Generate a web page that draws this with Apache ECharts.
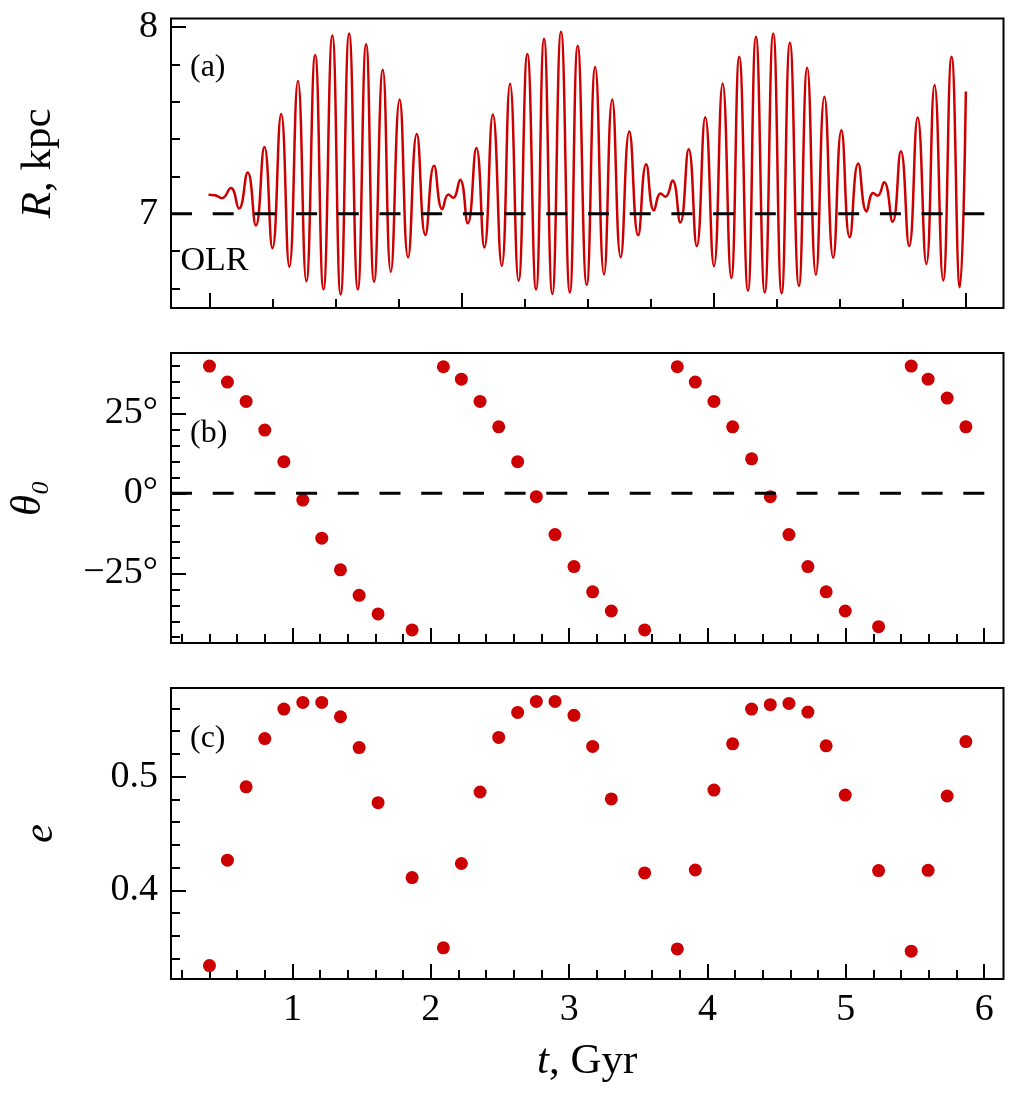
<!DOCTYPE html>
<html>
<head>
<meta charset="utf-8">
<script src="https://cdn.jsdelivr.net/npm/echarts@6/dist/echarts.min.js"></script>
<style>
  html, body { margin: 0; padding: 0; background: #fff; }
  #chart { width: 1016px; height: 1096px; }
</style>
</head>
<body>
<div id="chart"></div>
<script>
// panel (a): guiding-centre radius R(t), read at the extrema of the curve
const tLine = [0.3931, 0.4379, 0.4899, 0.5549, 0.6134, 0.6763, 0.7355, 0.7970, 0.8555, 0.9184,
  0.9776, 1.0397, 1.1004, 1.1640, 1.2240, 1.2883, 1.3483, 1.4097, 1.4725, 1.5325,
  1.5903, 1.6532, 1.7110, 1.7746, 1.8360, 1.8988, 1.9610, 2.0238, 2.0831, 2.1272,
  2.1611, 2.2117, 2.2673, 2.3295, 2.3873, 2.4487, 2.5130, 2.5730, 2.6344, 2.6980,
  2.7608, 2.8186, 2.8786, 2.9415, 3.0051, 3.0621, 3.1272, 3.1886, 3.2522, 3.3114,
  3.3728, 3.4350, 3.4993, 3.5571, 3.6135, 3.6618, 3.6965, 3.7471, 3.8035, 3.8642,
  3.9227, 3.9841, 4.0470, 4.1098, 4.1720, 4.2298, 4.2926, 4.3504, 4.4140, 4.4754,
  4.5361, 4.5961, 4.6611, 4.7211, 4.7840, 4.8454, 4.9090, 4.9682, 5.0282, 5.0896,
  5.1503, 5.1980, 5.2298, 5.2767, 5.3382, 5.3981, 5.4581, 5.5195, 5.5824, 5.6416,
  5.7038, 5.7645, 5.8244, 5.8678];
const rLine = [7.101, 7.099, 7.083, 7.137, 7.028, 7.221, 6.937, 7.357, 6.815, 7.534,
  6.715, 7.710, 6.638, 7.850, 6.595, 7.955, 6.567, 7.965, 6.593, 7.908,
  6.635, 7.771, 6.688, 7.611, 6.766, 7.427, 6.886, 7.257, 7.024, 7.103,
  7.085, 7.182, 6.948, 7.352, 6.819, 7.531, 6.720, 7.696, 6.640, 7.855,
  6.593, 7.937, 6.569, 7.974, 6.578, 7.900, 6.618, 7.786, 6.674, 7.611,
  6.767, 7.440, 6.884, 7.264, 7.017, 7.108, 7.090, 7.177, 6.952, 7.345,
  6.826, 7.517, 6.718, 7.697, 6.655, 7.841, 6.587, 7.948, 6.578, 7.965,
  6.573, 7.916, 6.613, 7.782, 6.673, 7.626, 6.764, 7.447, 6.873, 7.268,
  7.012, 7.111, 7.096, 7.168, 6.956, 7.334, 6.826, 7.515, 6.730, 7.689,
  6.642, 7.841, 6.605, 7.654];

// panels (b) and (c): sampled points
const tPts = [0.400, 0.530, 0.665, 0.800, 0.938, 1.075, 1.212, 1.347, 1.482, 1.619, 1.865,
  2.091, 2.221, 2.356, 2.491, 2.628, 2.763, 2.898, 3.035, 3.170, 3.305, 3.546,
  3.782, 3.912, 4.047, 4.182, 4.319, 4.454, 4.589, 4.726, 4.858, 4.996, 5.237,
  5.473, 5.595, 5.733, 5.868];
const theta0 = [39.8, 34.8, 28.75, 19.8, 9.9, -2.1, -14.0, -23.9, -31.9, -37.7, -42.7,
  39.6, 35.7, 28.75, 20.8, 9.9, -1.05, -12.9, -22.9, -30.8, -36.8, -42.7,
  39.6, 34.8, 28.75, 20.8, 10.8, -1.05, -12.9, -22.9, -30.8, -36.8, -41.7,
  39.8, 35.7, 29.8, 20.8];
const ecc = [0.3338, 0.4265, 0.4911, 0.5335, 0.5595, 0.5653, 0.5653, 0.5527, 0.5256, 0.4771, 0.4112,
  0.3494, 0.4236, 0.4865, 0.5345, 0.5565, 0.5662, 0.5662, 0.5540, 0.5266, 0.4804, 0.4153,
  0.3485, 0.4179, 0.4882, 0.5289, 0.5595, 0.5633, 0.5644, 0.5568, 0.5271, 0.4838, 0.4174,
  0.3465, 0.4176, 0.4830, 0.5309];

const R_OLR = 7;

// ticks
const tickAMajor = [0.4053, 2.2262, 4.0470, 5.8678];
const tickAMinor = [0.8606, 1.3158, 1.7710, 2.6815, 3.1367, 3.5919, 4.5022, 4.9574, 5.4126];
const tickTMajor = [1, 2, 3, 4, 5, 6];
const tickTMinor = [0.2, 0.4, 0.6, 0.8, 1.2, 1.4, 1.6, 1.8, 2.2, 2.4, 2.6, 2.8, 3.2, 3.4, 3.6, 3.8,
  4.2, 4.4, 4.6, 4.8, 5.2, 5.4, 5.6, 5.8];
const tickRMajor = [7, 8];
const tickRMinor = [6.6, 6.8, 7.2, 7.4, 7.6, 7.8];
const tickThMajor = [-25, 0, 25];
const tickThMinor = [-45, -40, -35, -30, -20, -15, -10, -5, 5, 10, 15, 20, 30, 35, 40];
const tickEMajor = [0.4, 0.5];
const tickEMinor = [0.34, 0.36, 0.38, 0.42, 0.44, 0.46, 0.48, 0.52, 0.54, 0.56];

const T_MIN = 0.122, T_MAX = 6.14;
const FONT = 'Liberation Serif';
const RED = '#cc0000';

const chart = echarts.init(document.getElementById('chart'));

function mkAxis(pos, grid, min, max, ticks, len, fmt, extra) {
  const ax = {
    type: 'value', gridIndex: grid, position: pos, min: min, max: max,
    axisLine: { show: false, onZero: false },
    splitLine: { show: false },
    axisTick: { show: true, inside: true, length: len, customValues: ticks,
      lineStyle: { color: '#000', width: 2 } },
    axisLabel: { show: false }
  };
  if (fmt) {
    ax.axisLabel = { show: true, customValues: ticks, formatter: fmt,
      margin: pos === 'left' ? 13 : 12,
      fontFamily: FONT, fontSize: 38, color: '#000' };
  }
  return Object.assign(ax, extra || {});
}

const nameStyle = {
  fontFamily: FONT, fontSize: 43, color: '#000',
  rich: { i: { fontFamily: FONT, fontSize: 43, fontStyle: 'italic', color: '#000' } }
};

const degFmt = v => (v < 0 ? '\u2212' + (-v) : String(v)) + '\u00b0';

const option = {
  animation: false,
  backgroundColor: '#fff',
  grid: [
    { left: 171, top: 18.5, width: 832.5, height: 289.5, show: true, borderColor: '#000', borderWidth: 2, outerBoundsMode: 'none' },
    { left: 171, top: 353, width: 832.5, height: 290, show: true, borderColor: '#000', borderWidth: 2, outerBoundsMode: 'none' },
    { left: 171, top: 688, width: 832.5, height: 291, show: true, borderColor: '#000', borderWidth: 2, outerBoundsMode: 'none' }
  ],
  xAxis: [
    mkAxis('bottom', 0, T_MIN, T_MAX, tickAMajor, 15, null),
    mkAxis('bottom', 0, T_MIN, T_MAX, tickAMinor, 9, null),
    mkAxis('bottom', 1, T_MIN, T_MAX, tickTMajor, 15, null),
    mkAxis('bottom', 1, T_MIN, T_MAX, tickTMinor, 9, null),
    mkAxis('bottom', 2, T_MIN, T_MAX, tickTMajor, 15, v => String(v), {
      name: '{i|t}, Gyr', nameLocation: 'middle', nameGap: 61, nameTextStyle: nameStyle, nameMoveOverlap: false
    }),
    mkAxis('bottom', 2, T_MIN, T_MAX, tickTMinor, 9, null)
  ],
  yAxis: [
    mkAxis('left', 0, 6.4945, 8.0455, tickRMajor, 15, v => String(v), {
      name: '{i|R}, kpc', nameLocation: 'middle', nameGap: 111, nameRotate: 90, nameTextStyle: nameStyle, nameMoveOverlap: false
    }),
    mkAxis('left', 0, 6.4945, 8.0455, tickRMinor, 9, null),
    mkAxis('left', 1, -46.8, 43.9, tickThMajor, 15, degFmt, {
      name: '{i|\u03b8\u2080}', nameLocation: 'middle', nameGap: 121, nameRotate: 90, nameTextStyle: nameStyle, nameMoveOverlap: false
    }),
    mkAxis('left', 1, -46.8, 43.9, tickThMinor, 9, null),
    mkAxis('left', 2, 0.322, 0.578, tickEMajor, 15, v => v.toFixed(1), {
      name: '{i|e}', nameLocation: 'middle', nameGap: 109, nameRotate: 90, nameTextStyle: nameStyle, nameMoveOverlap: false
    }),
    mkAxis('left', 2, 0.322, 0.578, tickEMinor, 9, null)
  ],
  series: [
    {
      type: 'line', xAxisIndex: 0, yAxisIndex: 0,
      data: tLine.map((t, i) => [t, rLine[i]]),
      smooth: 0.5, showSymbol: false, z: 2,
      lineStyle: { color: RED, width: 2.5 }
    },
    {
      type: 'line', xAxisIndex: 0, yAxisIndex: 0,
      data: [[T_MIN, R_OLR], [T_MAX, R_OLR]],
      showSymbol: false, z: 3,
      lineStyle: { color: '#000', width: 3, type: [21, 20.7] }
    },
    {
      type: 'scatter', xAxisIndex: 2, yAxisIndex: 2,
      data: tPts.map((t, i) => [t, theta0[i]]),
      symbolSize: 13, z: 2,
      itemStyle: { color: RED, opacity: 1 }
    },
    {
      type: 'line', xAxisIndex: 2, yAxisIndex: 2,
      data: [[T_MIN, 0], [T_MAX, 0]],
      showSymbol: false, z: 3,
      lineStyle: { color: '#000', width: 3, type: [21, 20.7] }
    },
    {
      type: 'scatter', xAxisIndex: 4, yAxisIndex: 4,
      data: tPts.map((t, i) => [t, ecc[i]]),
      symbolSize: 13, z: 2,
      itemStyle: { color: RED, opacity: 1 }
    }
  ],
  graphic: [
    { type: 'text', x: 190, y: 68, z: 10, style: { text: '(a)', font: '32px "Liberation Serif"', fill: '#000', verticalAlign: 'middle' } },
    { type: 'text', x: 190, y: 434, z: 10, style: { text: '(b)', font: '32px "Liberation Serif"', fill: '#000', verticalAlign: 'middle' } },
    { type: 'text', x: 190, y: 739, z: 10, style: { text: '(c)', font: '32px "Liberation Serif"', fill: '#000', verticalAlign: 'middle' } },
    { type: 'text', x: 180.5, y: 261, z: 10, style: { text: 'OLR', font: '34px "Liberation Serif"', fill: '#000', verticalAlign: 'middle' } }
  ]
};

chart.setOption(option);
</script>
</body>
</html>
